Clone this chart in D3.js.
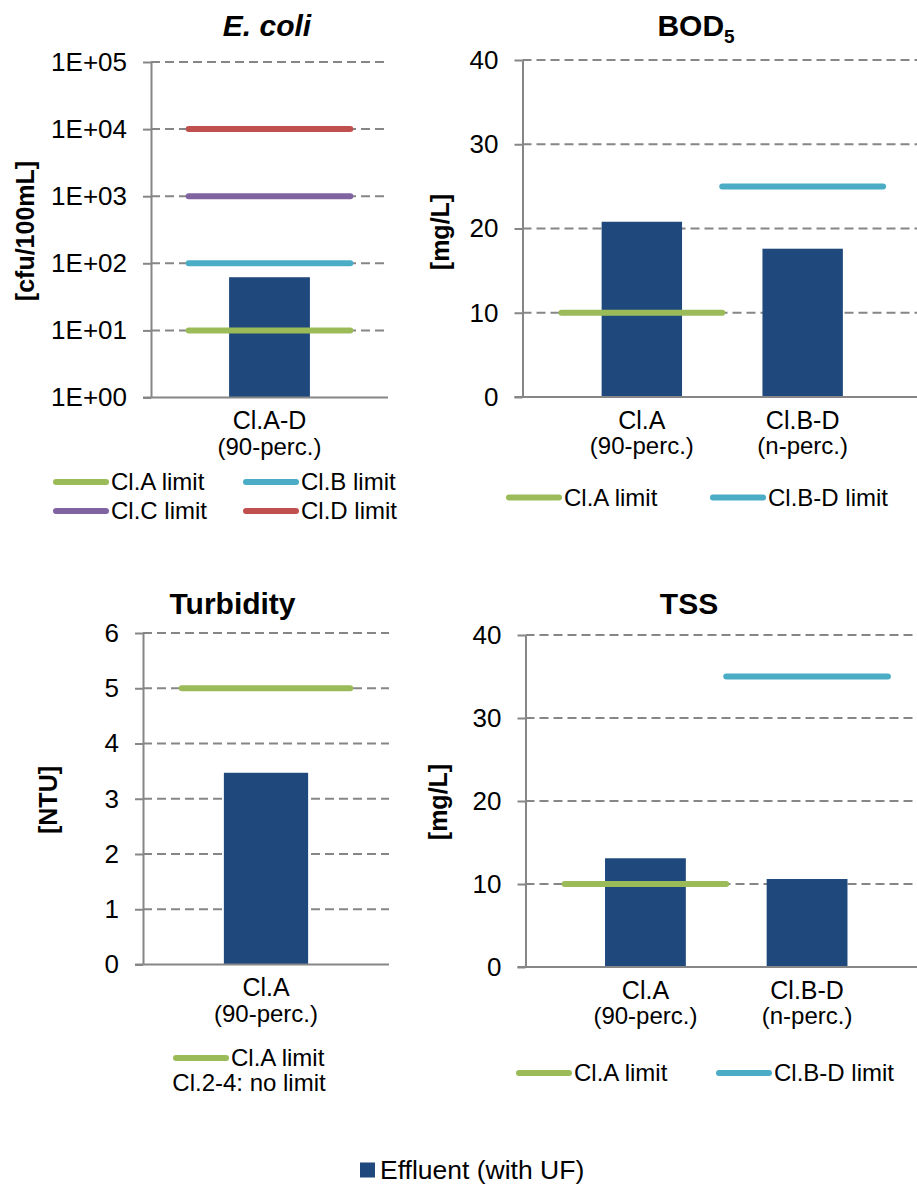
<!DOCTYPE html>
<html>
<head>
<meta charset="utf-8">
<script src="https://cdn.jsdelivr.net/npm/d3@7"></script>
<style>
  html, body { margin: 0; padding: 0; background: #fff; }
  svg { display: block; font-family: "Liberation Sans", Arial, sans-serif; }
</style>
</head>
<body>
<svg id="chart" width="917" height="1184"></svg>
<script>
// ---- data ----
const ecoliCategories = ["Cl.A-D"];
const ecoliSubLabels = ["(90-perc.)"];
const ecoliValues = [62];
const ecoliLimitNames = ["Cl.A limit", "Cl.B limit", "Cl.C limit", "Cl.D limit"];
const ecoliLimitValues = [10, 100, 1000, 10000];
const ecoliLimitCategories = ["Cl.A-D", "Cl.A-D", "Cl.A-D", "Cl.A-D"];
const ecoliTicks = [1, 10, 100, 1000, 10000, 100000];

const bodCategories = ["Cl.A", "Cl.B-D"];
const bodSubLabels = ["(90-perc.)", "(n-perc.)"];
const bodValues = [20.8, 17.6];
const bodLimitNames = ["Cl.A limit", "Cl.B-D limit"];
const bodLimitValues = [10, 25];
const bodLimitCategories = ["Cl.A", "Cl.B-D"];
const bodTicks = [0, 10, 20, 30, 40];

const turbCategories = ["Cl.A"];
const turbSubLabels = ["(90-perc.)"];
const turbValues = [3.47];
const turbLimitNames = ["Cl.A limit"];
const turbLimitValues = [5];
const turbLimitCategories = ["Cl.A"];
const turbTicks = [0, 1, 2, 3, 4, 5, 6];
const turbNote = "Cl.2-4: no limit";

const tssCategories = ["Cl.A", "Cl.B-D"];
const tssSubLabels = ["(90-perc.)", "(n-perc.)"];
const tssValues = [13.1, 10.6];
const tssLimitNames = ["Cl.A limit", "Cl.B-D limit"];
const tssLimitValues = [10, 35];
const tssLimitCategories = ["Cl.A", "Cl.B-D"];
const tssTicks = [0, 10, 20, 30, 40];

const seriesName = "Effluent (with UF)";

// ---- styles ----
const barColor = "#1F497D";
const gridColor = "#868686";
const limitColor = {
  "Cl.A limit": "#9BBB59",
  "Cl.B limit": "#4BACC6",
  "Cl.C limit": "#8064A2",
  "Cl.D limit": "#C0504D",
  "Cl.B-D limit": "#4BACC6"
};

const svg = d3.select("#chart");

function drawPanel(p) {
  const g = svg.append("g");
  const y = p.log
    ? d3.scaleLog().domain([p.ticks[0], p.ticks[p.ticks.length - 1]]).range([p.y1, p.y0])
    : d3.scaleLinear().domain([p.ticks[0], p.ticks[p.ticks.length - 1]]).range([p.y1, p.y0]);
  const x = d3.scaleBand().domain(p.categories).range([p.x0, p.x1])
    .paddingInner(0).paddingOuter(p.outer);

  // dashed gridlines
  g.append("g").selectAll("line").data(p.ticks.slice(1)).join("line")
    .attr("x1", p.x0).attr("x2", p.x1)
    .attr("y1", d => y(d)).attr("y2", d => y(d))
    .attr("stroke", gridColor).attr("stroke-width", 2)
    .attr("stroke-dasharray", "9,5");

  // y axis
  const axis = d3.axisLeft(y).tickValues(p.ticks).tickSize(8).tickPadding(16)
    .tickSizeOuter(0).tickFormat(p.format);
  const ag = g.append("g").attr("transform", `translate(${p.x0},0)`).call(axis);
  ag.select(".domain").attr("stroke", gridColor).attr("stroke-width", 2);
  ag.selectAll(".tick line").attr("stroke", gridColor).attr("stroke-width", 2);
  ag.selectAll(".tick text").attr("fill", "#000").attr("font-size", 26)
    .attr("font-family", "Liberation Sans, Arial, sans-serif");

  // bars
  const bw = x.bandwidth() * 0.5;
  g.append("g").selectAll("rect").data(p.values).join("rect")
    .attr("x", (d, i) => x(p.categories[i]) + (x.bandwidth() - bw) / 2)
    .attr("width", bw)
    .attr("y", d => y(d))
    .attr("height", d => y(p.ticks[0]) - y(d))
    .attr("fill", barColor);

  // baseline
  g.append("line").attr("x1", p.x0 - 8).attr("x2", p.x1)
    .attr("y1", p.y1).attr("y2", p.y1)
    .attr("stroke", gridColor).attr("stroke-width", 2);

  // limit lines
  g.append("g").selectAll("line").data(p.limitValues).join("line")
    .attr("x1", (d, i) => x(p.limitCategories[i]))
    .attr("x2", (d, i) => x(p.limitCategories[i]) + x.bandwidth())
    .attr("y1", d => y(d)).attr("y2", d => y(d))
    .attr("stroke", (d, i) => limitColor[p.limitNames[i]])
    .attr("stroke-width", 6).attr("stroke-linecap", "round");

  // category labels
  const cl = g.append("g").selectAll("g").data(p.categories).join("g")
    .attr("transform", d => `translate(${x(d) + x.bandwidth() / 2},${p.y1})`);
  cl.append("text").attr("y", 31.5).attr("text-anchor", "middle")
    .attr("font-size", 25).text(d => d);
  cl.append("text").attr("y", 57).attr("text-anchor", "middle")
    .attr("font-size", 24).text((d, i) => p.subLabels[i]);

  // title
  const t = g.append("text").attr("x", p.titleX).attr("y", p.titleY)
    .attr("text-anchor", "middle").attr("font-size", 30).attr("font-weight", "bold");
  if (p.titleItalic) t.attr("font-style", "italic");
  t.append("tspan").text(p.title);
  if (p.titleSub) {
    t.append("tspan").attr("font-size", 19).attr("dy", 7).text(p.titleSub);
  }

  // y title
  g.append("text")
    .attr("transform", `translate(${p.yTitleX},${p.yTitleY}) rotate(-90)`)
    .attr("text-anchor", "middle").attr("dominant-baseline", "central")
    .attr("font-size", 25).attr("font-weight", "bold").text(p.yTitle);

  // legend
  const lg = g.append("g").selectAll("g").data(p.limitNames).join("g")
    .attr("transform", (d, i) => `translate(${p.legendPos[i][0]},${p.legendPos[i][1]})`);
  lg.append("line").attr("x1", 2).attr("x2", 52).attr("y1", 0).attr("y2", 0)
    .attr("stroke", d => limitColor[d]).attr("stroke-width", 6)
    .attr("stroke-linecap", "round");
  lg.append("text").attr("x", 57).attr("dy", "0.35em").attr("font-size", 24).text(d => d);

  return { x, y };
}

const expFmt = d => "1E+" + String(Math.round(Math.log10(d))).padStart(2, "0");

drawPanel({
  title: "E. coli", titleItalic: true, titleX: 267, titleY: 35.5,
  yTitle: "[cfu/100mL]", yTitleX: 25, yTitleY: 231,
  log: true, ticks: ecoliTicks, format: expFmt,
  x0: 151, x1: 388, y0: 62, y1: 397.5, outer: 0.233,
  categories: ecoliCategories, subLabels: ecoliSubLabels, values: ecoliValues,
  limitNames: ecoliLimitNames, limitValues: ecoliLimitValues, limitCategories: ecoliLimitCategories,
  legendPos: [[54, 482], [244, 482], [54, 511], [244, 511]]
});

drawPanel({
  title: "BOD", titleSub: "5", titleX: 696, titleY: 36,
  yTitle: "[mg/L]", yTitleX: 440, yTitleY: 232,
  log: false, ticks: bodTicks, format: d3.format("d"),
  x0: 522.5, x1: 922, y0: 60, y1: 397, outer: 0.242,
  categories: bodCategories, subLabels: bodSubLabels, values: bodValues,
  limitNames: bodLimitNames, limitValues: bodLimitValues, limitCategories: bodLimitCategories,
  legendPos: [[507, 497.5], [711, 497.5]]
});

drawPanel({
  title: "Turbidity", titleX: 232.5, titleY: 613.5,
  yTitle: "[NTU]", yTitleX: 48, yTitleY: 800,
  log: false, ticks: turbTicks, format: d3.format("d"),
  x0: 143, x1: 389, y0: 633, y1: 964.5, outer: 0.23,
  categories: turbCategories, subLabels: turbSubLabels, values: turbValues,
  limitNames: turbLimitNames, limitValues: turbLimitValues, limitCategories: turbLimitCategories,
  legendPos: [[174, 1058]]
});
svg.append("text").attr("x", 249).attr("y", 1091).attr("text-anchor", "middle")
  .attr("font-size", 24).text(turbNote);

drawPanel({
  title: "TSS", titleX: 689, titleY: 613.5,
  yTitle: "[mg/L]", yTitleX: 438, yTitleY: 802,
  log: false, ticks: tssTicks, format: d3.format("d"),
  x0: 525.5, x1: 927, y0: 635, y1: 967, outer: 0.242,
  categories: tssCategories, subLabels: tssSubLabels, values: tssValues,
  limitNames: tssLimitNames, limitValues: tssLimitValues, limitCategories: tssLimitCategories,
  legendPos: [[517, 1073], [717, 1073]]
});

// series legend
const sl = svg.append("g").attr("transform", "translate(360,1170)");
sl.append("rect").attr("x", 0).attr("y", -7.5).attr("width", 15).attr("height", 15).attr("fill", barColor);
sl.append("text").attr("x", 20).attr("dy", "0.35em").attr("font-size", 26.5).text(seriesName);
</script>
</body>
</html>
